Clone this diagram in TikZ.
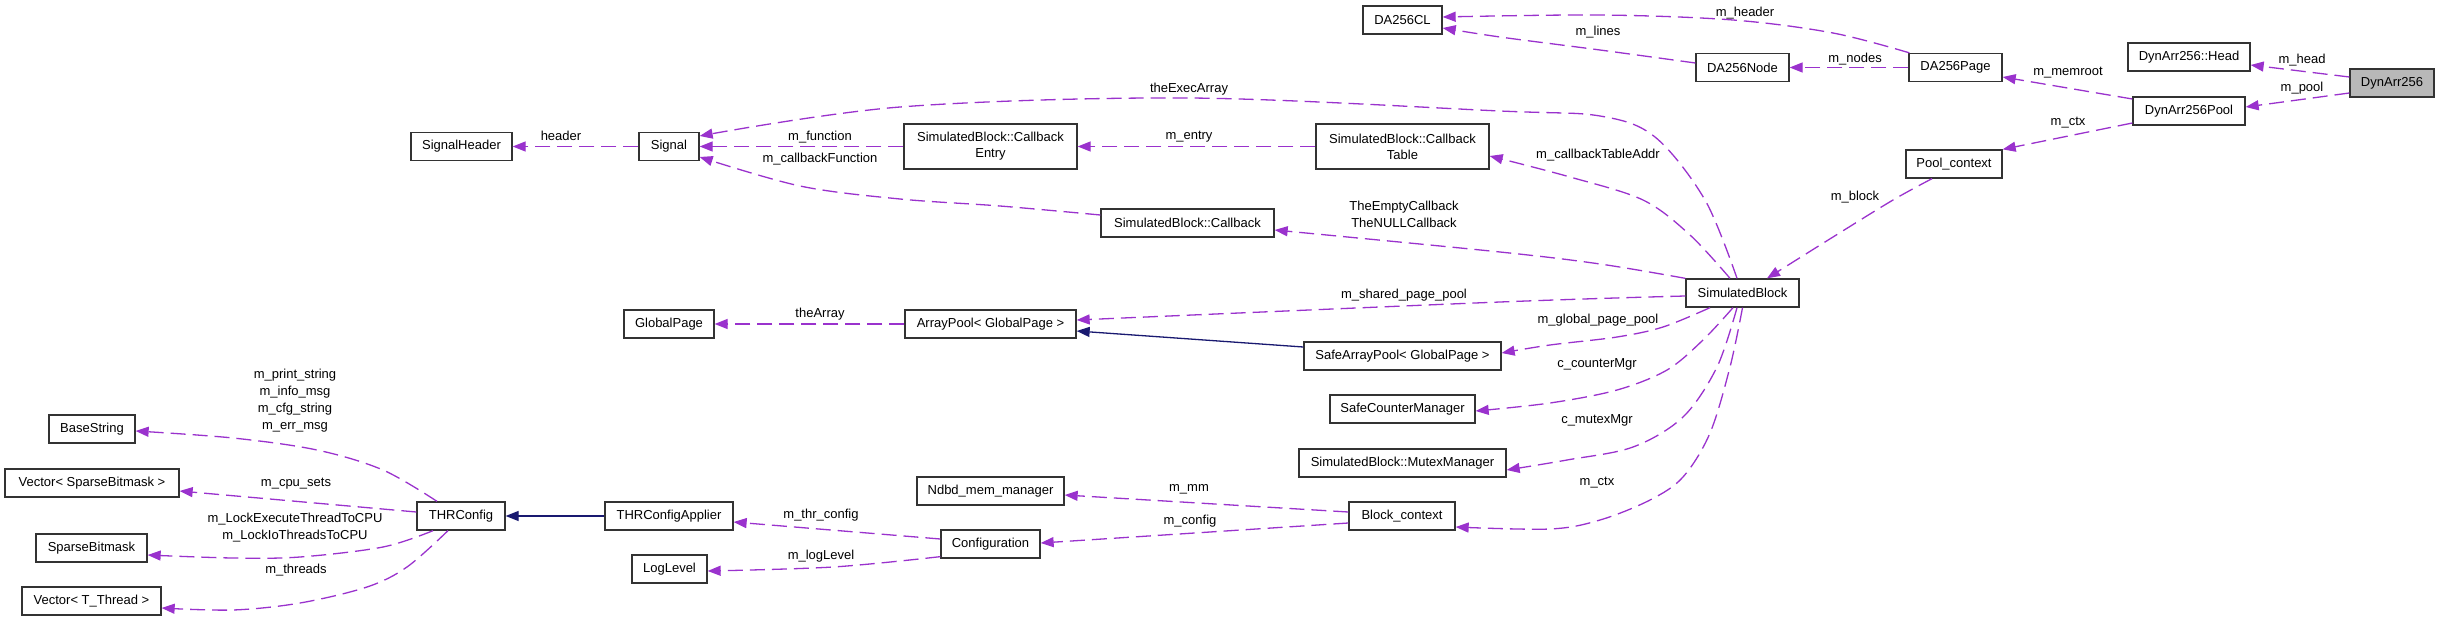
\documentclass[tikz,border=0pt]{standalone}
\usepackage{fontspec}
\setmainfont{Liberation Sans}
\usetikzlibrary{arrows.meta,calc}
\definecolor{depc}{HTML}{9A32CD}
\definecolor{inhc}{HTML}{191970}
\begin{document}
\begin{tikzpicture}[x=1pt,y=-1pt,
 box/.style={draw=black!80, fill=white, line width=1.3pt, inner sep=0pt, minimum height=28pt, font=\fontsize{13}{16}\selectfont, align=center},
 boxtwo/.style={box, minimum height=45pt},
 dep/.style={draw=depc, line width=1.3pt, dash pattern=on 15pt off 7pt, -{Triangle[length=13pt,width=10pt]}},
 inhe/.style={draw=inhc, line width=1.3pt, -{Triangle[length=13pt,width=10pt]}},
 lbl/.style={font=\fontsize{13}{17}\selectfont, inner sep=0pt, align=center},
 sm/.style={smooth, tension=0.55}
]
\useasboundingbox (0,0) rectangle (2440,621);

% nodes
\node[box, minimum width=101pt] (sh) at (461.5,146.5) {SignalHeader};
\node[box, minimum width=60pt] (sig) at (669,146.5) {Signal};
\node[boxtwo, minimum width=173pt] (cbe) at (990.5,146.5) {SimulatedBlock::Callback\\Entry};
\node[boxtwo, minimum width=173pt] (cbt) at (1402.5,146.5) {SimulatedBlock::Callback\\Table};
\node[box, minimum width=79pt] (cl) at (1402.5,20) {DA256CL};
\node[box, minimum width=93pt] (dn) at (1742.5,67.5) {DA256Node};
\node[box, minimum width=93pt] (dp) at (1955.5,67.5) {DA256Page};
\node[box, minimum width=96pt] (pc) at (1954,164) {Pool\_context};
\node[box, minimum width=122pt] (hd) at (2189,57) {DynArr256::Head};
\node[box, minimum width=112pt] (dap) at (2189,111) {DynArr256Pool};
\node[box, minimum width=84pt, fill=black!28] (da) at (2392,83) {DynArr256};
\node[box, minimum width=113pt] (sb) at (1742.5,293) {SimulatedBlock};
\node[box, minimum width=173pt] (sbc) at (1187.5,223) {SimulatedBlock::Callback};
\node[box, minimum width=171pt] (ap) at (990.5,324) {ArrayPool< GlobalPage >};
\node[box, minimum width=90pt] (gp) at (669,324) {GlobalPage};
\node[box, minimum width=197pt] (sap) at (1402.5,356) {SafeArrayPool< GlobalPage >};
\node[box, minimum width=145pt] (scm) at (1402.5,409) {SafeCounterManager};
\node[box, minimum width=207pt] (mm) at (1402.5,463) {SimulatedBlock::MutexManager};
\node[box, minimum width=106pt] (bc) at (1402,516) {Block\_context};
\node[box, minimum width=147pt] (nmm) at (990.5,491) {Ndbd\_mem\_manager};
\node[box, minimum width=99pt] (cfg) at (990.5,544) {Configuration};
\node[box, minimum width=128pt] (tca) at (669,516) {THRConfigApplier};
\node[box, minimum width=75pt] (lvl) at (669.5,569) {LogLevel};
\node[box, minimum width=88pt] (thr) at (461,516) {THRConfig};
\node[box, minimum width=86pt] (bs) at (92,429) {BaseString};
\node[box, minimum width=174pt] (vsb) at (92,483) {Vector< SparseBitmask >};
\node[box, minimum width=111pt] (sbm) at (91.5,548) {SparseBitmask};
\node[box, minimum width=139pt] (vt) at (91.5,601) {Vector< T\_Thread >};

% connectors
\draw[dep] (sig.west) -- (sh.east);
\draw[dep] plot[sm] coordinates {($(sb.north)+(-5.5,0)$) (1705,200) (1655,137) (1600,116) (1500,111) (1189,98) (900,107) ($(sig.east)+(0,-10.5)$)};
\draw[dep] (cbe.west) -- (sig.east);
\draw[dep] plot[sm] coordinates {($(sbc.west)+(0,-8)$) (1000,206) (900,199) (800,186) ($(sig.east)+(0,10.5)$)};
\draw[dep] (cbt.west) -- (cbe.east);
\draw[dep] plot[sm] coordinates {($(sb.north)+(-12.5,0)$) (1690,235) (1643,200) (1570,177) ($(cbt.east)+(0,9.5)$)};
\draw[dep] plot[sm] coordinates {(sb.north west) (1600,264) (1500,252) ($(sbc.east)+(0,7)$)};
\draw[dep] plot[sm] coordinates {($(sb.west)+(0,3)$) (1500,302) ($(ap.east)+(0,-4)$)};
\draw[inhe] ($(sap.west)+(0,-9)$) -- ($(ap.east)+(0,7)$);
\draw[dep] (ap.west) -- (gp.east);
\draw[dep] plot[sm] coordinates {($(sb.south)+(-32.5,0)$) (1663,327) (1617,337) (1550,345) ($(sap.east)+(0,-3)$)};
\draw[dep] plot[sm] coordinates {($(sb.south)+(-9.5,0)$) (1703,340) (1667,370) (1617,390) (1550,403) ($(scm.east)+(0,2)$)};
\draw[dep] plot[sm] coordinates {($(sb.south)+(-5.5,0)$) (1717,367) (1683,417) (1633,447) (1567,460) ($(mm.east)+(0,7)$)};
\draw[dep] plot[sm] coordinates {(sb.south) (1730,367) (1710,433) (1683,477) (1650,500) (1600,520) (1550,529) ($(bc.east)+(0,11)$)};
\draw[dep] plot[sm] coordinates {($(pc.south)+(-22,0)$) (1893,200) (1833,237) ($(sb.north)+(24.5,0)$)};
\draw[dep] ($(dap.west)+(0,12)$) -- (pc.north east);
\draw[dep] ($(dap.west)+(0,-12)$) -- ($(dp.east)+(0,9.5)$);
\draw[dep] ($(da.west)+(0,-6)$) -- ($(hd.east)+(0,8)$);
\draw[dep] ($(da.west)+(0,10)$) -- ($(dap.east)+(0,-4)$);
\draw[dep] (dp.west) -- (dn.east);
\draw[dep] plot[sm] coordinates {($(dp.north west)+(1,0)$) (1833,33) (1733,20) (1600,15) ($(cl.east)+(0,-3)$)};
\draw[dep] plot[sm] coordinates {($(dn.west)+(0,-4.5)$) (1600,50) (1500,37) ($(cl.east)+(0,8)$)};
\draw[dep] ($(cfg.west)+(0,-5)$) -- ($(tca.east)+(0,6)$);
\draw[dep] plot[sm] coordinates {($(cfg.south west)+(0,-2)$) (833,567) ($(lvl.east)+(0,2)$)};
\draw[dep] ($(bc.west)+(0,-4)$) -- ($(nmm.east)+(0,4)$);
\draw[dep] ($(bc.west)+(0,7)$) -- ($(cfg.east)+(0,-1)$);
\draw[inhe] (tca.west) -- (thr.east);
\draw[dep] plot[sm] coordinates {($(thr.north)+(-24,0)$) (383,470) (317,450) (233,438) ($(bs.east)+(0,2)$)};
\draw[dep] ($(thr.west)+(0,-4)$) -- ($(vsb.east)+(0,8)$);
\draw[dep] plot[sm] coordinates {($(thr.south)+(-28,0)$) (383,547) (300,557) (233,558) ($(sbm.east)+(0,7)$)};
\draw[dep] plot[sm] coordinates {($(thr.south)+(-13,0)$) (407,567) (367,587) (300,603) (233,610) ($(vt.east)+(0,7)$)};

% labels
\node[lbl] (l1) at (561,136) {header};
\node[lbl] (l2) at (1189,89) {theExecArray};
\node[lbl] (l3) at (820,137) {m\_function};
\node[lbl] (l4) at (820,159) {m\_callbackFunction};
\node[lbl] (l5) at (1189,137) {m\_entry};
\node[lbl] (l6) at (1598,155) {m\_callbackTableAddr};
\node[lbl] (l7) at (1404,214) {TheEmptyCallback\\TheNULLCallback};
\node[lbl] (l8) at (1404,295) {m\_shared\_page\_pool};
\node[lbl] (l9) at (820,314) {theArray};
\node[lbl] (l10) at (1598,320) {m\_global\_page\_pool};
\node[lbl] (l11) at (1597,364) {c\_counterMgr};
\node[lbl] (l12) at (1597,420) {c\_mutexMgr};
\node[lbl] (l13) at (1597,483) {m\_ctx};
\node[lbl] (l14) at (1855,197) {m\_block};
\node[lbl] (l15) at (2068,123) {m\_ctx};
\node[lbl] (l16) at (2068,73) {m\_memroot};
\node[lbl] (l17) at (2302,60) {m\_head};
\node[lbl] (l18) at (2302,88) {m\_pool};
\node[lbl] (l19) at (1855,59) {m\_nodes};
\node[lbl] (l20) at (1745,13) {m\_header};
\node[lbl] (l21) at (1598,32) {m\_lines};
\node[lbl] (l22) at (821,515) {m\_thr\_config};
\node[lbl] (l23) at (821,556) {m\_logLevel};
\node[lbl] (l24) at (1189,489) {m\_mm};
\node[lbl] (l25) at (1190,521) {m\_config};
\node[lbl] (l26) at (295,401) {m\_print\_string\\m\_info\_msg\\m\_cfg\_string\\m\_err\_msg};
\node[lbl] (l27) at (296,484) {m\_cpu\_sets};
\node[lbl] (l28) at (295,527.5) {m\_LockExecuteThreadToCPU\\m\_LockIoThreadsToCPU};
\node[lbl] (l29) at (296,570) {m\_threads};
\end{tikzpicture}
\end{document}
